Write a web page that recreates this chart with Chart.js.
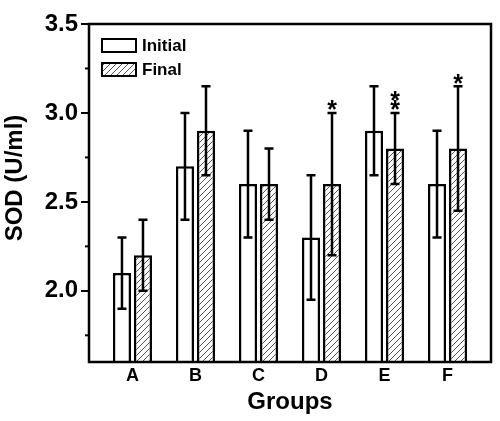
<!DOCTYPE html>
<html>
<head>
<meta charset="utf-8">
<script src="https://cdn.jsdelivr.net/npm/chart.js@4"></script>
<style>
  html, body { margin: 0; padding: 0; background: #fff; }
  #wrap { width: 500px; height: 421px; }
</style>
</head>
<body>
<div id="wrap"><canvas id="sodChart"></canvas></div>
<script>
// data
const groups = ["A", "B", "C", "D", "E", "F"];
const initialMean = [2.1, 2.7, 2.6, 2.3, 2.9, 2.6];
const initialLow = [1.9, 2.4, 2.3, 1.95, 2.65, 2.3];
const initialHigh = [2.3, 3.0, 2.9, 2.65, 3.15, 2.9];
const finalMean = [2.2, 2.9, 2.6, 2.6, 2.8, 2.8];
const finalLow = [2.0, 2.65, 2.4, 2.2, 2.6, 2.45];
const finalHigh = [2.4, 3.15, 2.8, 3.0, 3.0, 3.15];
const finalMarks = ["", "", "", "*", "**", "*"];
const yTickLabels = [2.0, 2.5, 3.0, 3.5];

const FONT = "'Liberation Sans', Arial, sans-serif";
const isMajor = (v) => yTickLabels.some((t) => Math.abs(t - v) < 1e-6);

// hatch pattern for the "Final" bars
function makeHatch() {
  const c = document.createElement("canvas");
  c.width = 6; c.height = 6;
  const g = c.getContext("2d");
  g.fillStyle = "#fff";
  g.fillRect(0, 0, 6, 6);
  g.strokeStyle = "#555";
  g.lineWidth = 1;
  g.beginPath();
  g.moveTo(0, 6); g.lineTo(6, 0);
  g.moveTo(-1, 1); g.lineTo(1, -1);
  g.moveTo(5, 7); g.lineTo(7, 5);
  g.stroke();
  return g.createPattern(c, "repeat");
}
const hatch = makeHatch();

const toPoints = (arr) => arr.map((v, i) => ({ x: i, y: v }));

// error bars, asterisks, frame, minor ticks, y title and legend
const extras = {
  id: "extras",
  afterDatasetsDraw(chart) {
    const { ctx, chartArea: a, scales: { y } } = chart;
    const lows = [initialLow, finalLow];
    const highs = [initialHigh, finalHigh];
    ctx.save();
    ctx.strokeStyle = "#000";
    ctx.lineWidth = 2.5;
    chart.data.datasets.forEach((ds, di) => {
      chart.getDatasetMeta(di).data.forEach((bar, i) => {
        const top = y.getPixelForValue(highs[di][i]);
        const bot = y.getPixelForValue(lows[di][i]);
        ctx.beginPath();
        ctx.moveTo(bar.x, top); ctx.lineTo(bar.x, bot);
        ctx.moveTo(bar.x - 4.5, top); ctx.lineTo(bar.x + 4.5, top);
        ctx.moveTo(bar.x - 4.5, bot); ctx.lineTo(bar.x + 4.5, bot);
        ctx.stroke();
      });
    });

    // significance marks above final error bars
    ctx.fillStyle = "#000";
    ctx.font = "bold 25px " + FONT;
    ctx.textAlign = "center";
    ctx.textBaseline = "alphabetic";
    chart.getDatasetMeta(1).data.forEach((bar, i) => {
      const top = y.getPixelForValue(finalHigh[i]);
      for (let k = 0; k < finalMarks[i].length; k++) {
        const cy = top - 9 - k * 9;
        ctx.fillText("*", bar.x, cy + 14.5);
      }
    });

    // frame
    ctx.lineWidth = 2.5;
    ctx.strokeRect(a.left, a.top, a.right - a.left, a.bottom - a.top);

    // short minor ticks
    ctx.lineWidth = 2;
    y.ticks.forEach((t) => {
      if (isMajor(t.value)) return;
      const py = y.getPixelForValue(t.value);
      ctx.beginPath();
      ctx.moveTo(a.left - 4, py); ctx.lineTo(a.left, py);
      ctx.stroke();
    });

    // y title, sits a bit above the plot centre in the original
    ctx.save();
    ctx.translate(15, 178);
    ctx.rotate(-Math.PI / 2);
    ctx.font = "bold 24px " + FONT;
    ctx.textAlign = "center";
    ctx.textBaseline = "middle";
    ctx.fillText("SOD (U/ml)", 0, 0);
    ctx.restore();

    // legend
    const items = [
      { label: chart.data.datasets[0].label, fill: "#fff", y: 39 },
      { label: chart.data.datasets[1].label, fill: hatch, y: 63 },
    ];
    ctx.font = "bold 17px " + FONT;
    ctx.textAlign = "left";
    ctx.textBaseline = "middle";
    items.forEach((it) => {
      ctx.fillStyle = it.fill;
      ctx.fillRect(102, it.y, 34, 13);
      ctx.lineWidth = 2;
      ctx.strokeRect(102, it.y, 34, 13);
      ctx.fillStyle = "#000";
      ctx.fillText(it.label, 142, it.y + 7);
    });
    ctx.restore();
  },
};

new Chart(document.getElementById("sodChart"), {
  type: "bar",
  data: {
    datasets: [
      {
        label: "Initial",
        data: toPoints(initialMean),
        backgroundColor: "#fff",
        borderColor: "#000",
        borderWidth: 2.5,
        borderSkipped: "start",
      },
      {
        label: "Final",
        data: toPoints(finalMean),
        backgroundColor: hatch,
        borderColor: "#000",
        borderWidth: 2.5,
        borderSkipped: "start",
      },
    ],
  },
  options: {
    responsive: true,
    maintainAspectRatio: false,
    animation: false,
    categoryPercentage: 0.667,
    barPercentage: 0.86,
    layout: { padding: { top: 24, right: 9, bottom: 0, left: 0 } },
    plugins: { legend: { display: false }, tooltip: { enabled: false } },
    scales: {
      x: {
        type: "linear",
        offset: false,
        min: -0.69,
        max: 5.69,
        grid: { display: false, drawTicks: false },
        border: { display: false },
        ticks: {
          stepSize: 1,
          includeBounds: false,
          autoSkip: false,
          maxRotation: 0,
          padding: 3,
          color: "#000",
          font: { family: FONT, size: 18, weight: "bold" },
          callback: (v) => (Number.isInteger(v) && groups[v] ? groups[v] : ""),
        },
        title: {
          display: true,
          text: "Groups",
          color: "#000",
          padding: { top: 0, bottom: 4 },
          font: { family: FONT, size: 24, weight: "bold" },
        },
        afterFit: (s) => { s.height = 59; },
      },
      y: {
        min: 1.6,
        max: 3.5,
        grid: {
          drawOnChartArea: false,
          drawTicks: true,
          tickLength: 8,
          tickColor: (c) => (c.tick && isMajor(c.tick.value) ? "#000" : "rgba(0,0,0,0)"),
          lineWidth: 2,
        },
        border: { display: false },
        ticks: {
          stepSize: 0.25,
          includeBounds: false,
          padding: 3,
          color: "#000",
          font: { family: FONT, size: 24, weight: "bold" },
          callback: (v) => (isMajor(v) ? v.toFixed(1) : ""),
        },
        afterFit: (s) => { s.width = 89; },
      },
    },
  },
  plugins: [extras],
});
</script>
</body>
</html>
